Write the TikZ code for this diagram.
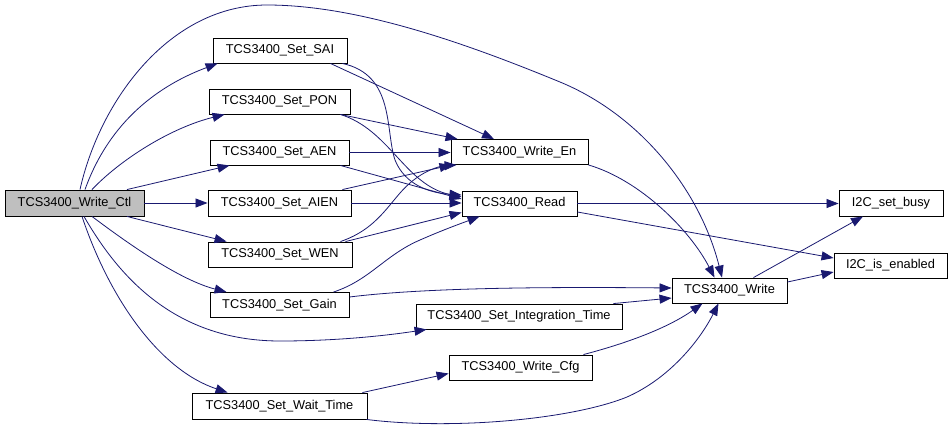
\documentclass[tikz,border=0pt]{standalone}
\usepackage{fontspec}
\setmainfont{Liberation Sans}
\usetikzlibrary{arrows.meta}
\definecolor{edgecol}{HTML}{191970}
\definecolor{boxgray}{HTML}{BFBFBF}
\begin{document}
\begin{tikzpicture}[x=1pt,y=-1pt,
  box/.style={draw=black, line width=0.9pt, fill=white, rectangle, inner sep=0pt,
    minimum height=25pt, font=\fontsize{12.8}{15}\selectfont, anchor=center},
  edge/.style={draw=edgecol, line width=0.8pt, -{Triangle[length=12pt,width=9pt]}}]
\useasboundingbox (0,0) rectangle (952,429);
% nodes
\node[box, fill=boxgray, minimum width=139pt, minimum height=26pt] (ctl) at (74.5,203) {TCS3400\_Write\_Ctl};
\node[box, minimum width=134pt] (sai) at (280,50.5) {TCS3400\_Set\_SAI};
\node[box, minimum width=141pt] (pon) at (279.5,101.5) {TCS3400\_Set\_PON};
\node[box, minimum width=139pt] (aen) at (279.5,152.5) {TCS3400\_Set\_AEN};
\node[box, minimum width=143pt, minimum height=26pt] (aien) at (279.5,203) {TCS3400\_Set\_AIEN};
\node[box, minimum width=144pt] (wen) at (280,254.5) {TCS3400\_Set\_WEN};
\node[box, minimum width=139pt] (gain) at (279.5,305) {TCS3400\_Set\_Gain};
\node[box, minimum width=206pt] (inttime) at (519,316.5) {TCS3400\_Set\_Integration\_Time};
\node[box, minimum width=175pt, minimum height=26pt] (wait) at (279.5,406) {TCS3400\_Set\_Wait\_Time};
\node[box, minimum width=137pt] (wren) at (519.5,152) {TCS3400\_Write\_En};
\node[box, minimum width=115pt] (read) at (519.5,203.5) {TCS3400\_Read};
\node[box, minimum width=143pt] (cfg) at (520.5,367.5) {TCS3400\_Write\_Cfg};
\node[box, minimum width=115pt] (write) at (729.5,290.5) {TCS3400\_Write};
\node[box, minimum width=104pt, minimum height=26pt] (busy) at (891,203) {I2C\_set\_busy};
\node[box, minimum width=113pt] (enab) at (890.5,265.5) {I2C\_is\_enabled};
% edges from Write_Ctl
\draw[edge] ([xshift=10.5pt]ctl.north) .. controls (110,120) and (160,85) .. ([xshift=5pt]sai.south west);
\draw[edge] ([xshift=17.5pt]ctl.north) .. controls (120,160) and (170,128) .. ([xshift=16pt]pon.south west);
\draw[edge] ([xshift=52.5pt]ctl.north) -- ([xshift=20pt]aen.south west);
\draw[edge] (ctl.east) -- (aien.west);
\draw[edge] ([xshift=52.5pt]ctl.south) -- ([xshift=19pt]wen.north west);
\draw[edge] ([xshift=17.5pt]ctl.south) .. controls (130,245) and (180,280) .. ([xshift=17pt]gain.north west);
\draw[edge] ([xshift=9.5pt]ctl.south) .. controls (115,270) and (170,341) .. (280,341) .. controls (340,341) and (390,335) .. ([xshift=11pt]inttime.south west);
\draw[edge] ([xshift=7.5pt]ctl.south) .. controls (110,300) and (160,370) .. ([xshift=36pt]wait.north west);
\draw[edge] ([xshift=5.5pt]ctl.north) .. controls (100,100) and (170,5) .. (267,5) .. controls (360,5) and (470,45) .. (560,82) .. controls (640,115) and (700,190) .. ([xshift=-7.5pt]write.north);
% Set_SAI
\draw[edge] ([xshift=-17pt]sai.south east) -- ([xshift=-25.5pt]wren.north);
\draw[edge] ([xshift=-5pt]sai.south east) .. controls (395,75) and (385,130) .. (395,160) .. controls (405,185) and (430,193) .. ([yshift=8.5pt]read.west);
% Set_PON
\draw[edge] ([xshift=-10pt]pon.south east) -- ([xshift=7pt]wren.north west);
\draw[edge] ([xshift=-10pt]pon.south east) .. controls (390,130) and (405,185) .. ([yshift=6.5pt]read.west);
% Set_AEN
\draw[edge] (aen.east) -- (aen.east -| wren.west);
\draw[edge] ([xshift=-9pt]aen.south east) -- ([yshift=4.5pt]read.west);
% Set_AIEN
\draw[edge] ([xshift=-9pt]aien.north east) -- ([xshift=1pt]wren.south west);
\draw[edge] (aien.east) -- (aien.east -| read.west);
% Set_WEN
\draw[edge] ([xshift=-12pt]wen.north east) .. controls (380,228) and (390,200) .. (410,183) .. controls (425,170) and (440,166) .. ([xshift=6pt]wren.south west);
\draw[edge] ([xshift=-7pt]wen.north east) -- ([yshift=-9pt]read.west);
% Set_Gain
\draw[edge] ([xshift=-16pt]gain.north east) .. controls (370,280) and (385,255) .. (420,240) .. controls (445,229) and (465,222) .. ([xshift=18pt]read.south west);
\draw[edge] ([yshift=8pt]gain.east) .. controls (430,287) and (560,287) .. ([yshift=2.5pt]write.west);
% Integration time
\draw[edge] ([xshift=-9pt]inttime.north east) -- ([yshift=-7.5pt]write.west);
% Write_En
\draw[edge] (wren.south east) .. controls (640,180) and (690,230) .. ([xshift=-15pt]write.north);
% Write_Cfg
\draw[edge] ([xshift=-9pt]cfg.north east) .. controls (620,345) and (665,330) .. ([xshift=-27pt]write.south);
% Wait time
\draw[edge] ([xshift=-5pt]wait.north east) -- ([yshift=-6pt]cfg.west);
\draw[edge] ([xshift=-1pt]wait.south east) .. controls (450,430) and (570,420) .. (627,397) .. controls (670,378) and (700,340) .. ([xshift=-11pt]write.south);
% Read
\draw[edge] (read.east) -- (read.east -| busy.west);
\draw[edge] ([yshift=-8.5pt]read.east) -- ([yshift=7.5pt]enab.west);
% Write
\draw[edge] ([xshift=24pt]write.north) -- ([xshift=-28pt]busy.south);
\draw[edge] ([yshift=8.5pt]write.east) -- ([yshift=-6.5pt]enab.west);
\end{tikzpicture}
\end{document}
